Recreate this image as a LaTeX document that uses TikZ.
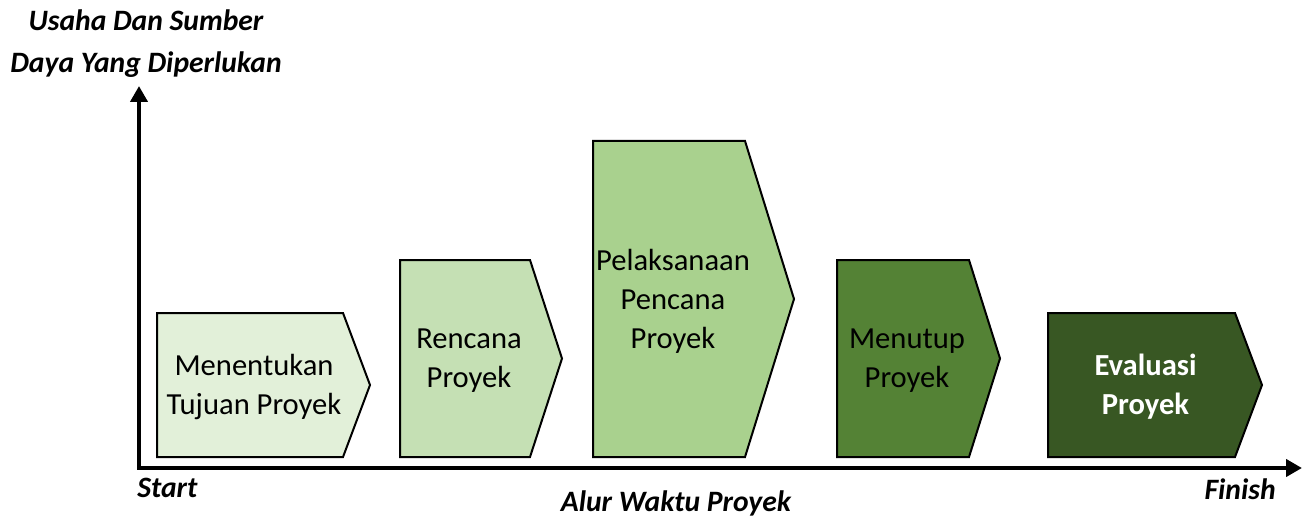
\documentclass[tikz,border=0pt]{standalone}
\usepackage{fontspec}
\setmainfont{Carlito}
\usepackage{tikz}
\usetikzlibrary{positioning,arrows.meta}
\tikzstyle{timeline} = [x = 0.5pt, y = -0.5pt]
\definecolor{phaseOne}{HTML}{E2F0D9}
\definecolor{phaseTwo}{HTML}{C5E0B4}
\definecolor{phaseThree}{HTML}{A9D18E}
\definecolor{phaseFour}{HTML}{548235}
\definecolor{phaseFive}{HTML}{385723}
\tikzstyle{phaseStyle} = [draw=black, line width=1pt, line join=miter]
\tikzstyle{phaseText} = [font=\fontsize{15.3}{19.5}\selectfont, align=center, text=black, inner sep=0pt]
\tikzstyle{axisLine} = [line width=2pt, line join=miter, {Triangle[length=8pt,width=8.5pt]}-{Triangle[length=8pt,width=8.5pt]}]
\tikzstyle{axisLabel} = [font=\fontsize{14.8}{21}\selectfont\bfseries\itshape, inner sep=0pt]
\newcommand{\phaseBottom}{457}
\newcommand{\phaseShape}[8]{
  \filldraw [phaseStyle, fill=#6] (#2, \phaseBottom) -- (#2, #3) -- (#4, #3) -- (#5, {(#3 + \phaseBottom) / 2}) -- (#4, \phaseBottom) -- cycle;
  \node [phaseText, #7] (#1) at ({(#2 + #4) / 2 + 4}, {(#3 + \phaseBottom) / 2 + 2}) {#8};
}
\begin{document}
\begin{tikzpicture}[timeline]
       \useasboundingbox (0, 0) rectangle (1304, 518);
       \coordinate (origin) at (139, 468);
       \coordinate (yAxisEnd) at (139, 86);
       \coordinate (xAxisEnd) at (1302, 468);
       \draw [axisLine] (yAxisEnd) -- (origin) -- (xAxisEnd);

       \phaseShape{goal}{157}{313}{343}{370}{phaseOne}{}{Menentukan\\Tujuan Proyek}
       \phaseShape{plan}{400}{260}{530}{562}{phaseTwo}{}{Rencana\\Proyek}
       \phaseShape{execute}{593}{141}{745}{794}{phaseThree}{}{Pelaksanaan\\Pencana\\Proyek}
       \phaseShape{close}{837}{260}{969}{1000}{phaseFour}{}{Menutup\\Proyek}
       \phaseShape{evaluate}{1048}{313}{1235}{1262}{phaseFive}{text=white, font=\fontsize{15.3}{19.5}\selectfont\bfseries}{Evaluasi\\Proyek}

       \node [axisLabel, align=center] (effortLabel) at (146, 44) {Usaha Dan Sumber\\Daya Yang Diperlukan};
       \node [axisLabel, below right = 5pt and -1pt of origin] (startLabel) {Start};
       \node [axisLabel, below left = 5pt and 13pt of xAxisEnd] (finishLabel) {Finish};
       \node [axisLabel] (timeLabel) at (676, 503) {Alur Waktu Proyek};
     \end{tikzpicture}
\end{document}
